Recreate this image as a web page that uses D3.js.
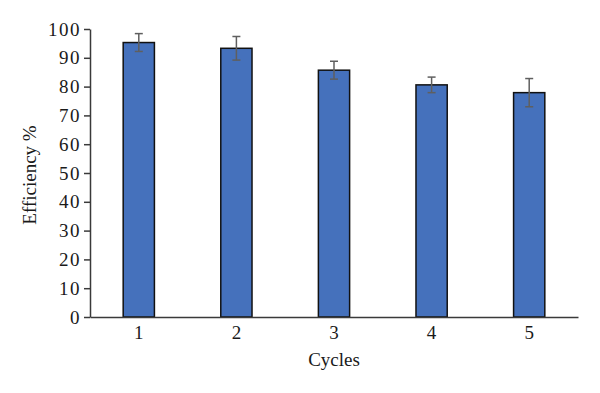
<!DOCTYPE html>
<html>
<head>
<meta charset="utf-8">
<script src="https://cdn.jsdelivr.net/npm/d3@7"></script>
<style>
  body { margin: 0; background: #fff; }
  svg text { font-family: "Liberation Serif", "DejaVu Serif", serif; fill: #1a1a1a; }
  .axis path, .axis line { stroke: #3a3a3a; stroke-width: 1.5; }
  .bar { fill: #4571bc; stroke: #111; stroke-width: 1.5; }
  .err { stroke: #5f5f5f; stroke-width: 1.5; fill: none; }
</style>
</head>
<body>
<svg id="chart"></svg>
<script>
var cycles = ["1", "2", "3", "4", "5"];
var efficiency = [95.3, 93.3, 85.7, 80.6, 77.9];
var errors = [3.1, 4.1, 3.1, 2.7, 4.9];
var yTicks = [0, 10, 20, 30, 40, 50, 60, 70, 80, 90, 100];

var width = 600, height = 393;
var margin = {top: 29, right: 22, bottom: 76, left: 90};
var plotW = width - margin.left - margin.right;
var plotH = height - margin.top - margin.bottom;

var svg = d3.select("#chart")
    .attr("width", width)
    .attr("height", height)
    .append("g")
    .attr("transform", "translate(" + margin.left + "," + margin.top + ")");

var xScale = d3.scaleBand()
    .domain(cycles)
    .range([0, plotW])
    .paddingInner(0.68)
    .paddingOuter(0.34);

var yScale = d3.scaleLinear()
    .domain([0, 100])
    .range([plotH, 0]);

// y axis
var yAxis = svg.append("g")
    .attr("class", "axis y")
    .call(d3.axisLeft(yScale).tickValues(yTicks).tickSize(6).tickSizeOuter(0).tickPadding(3));
yAxis.selectAll("text")
    .style("font-size", "19px")
    .style("letter-spacing", "1.5px");

// bars
svg.selectAll(".bar")
    .data(efficiency)
    .enter().append("rect")
    .attr("class", "bar")
    .attr("x", function(d, i) { return xScale(cycles[i]); })
    .attr("y", function(d) { return yScale(d); })
    .attr("width", xScale.bandwidth())
    .attr("height", function(d) { return plotH - yScale(d); });

// error bars
var capW = 4;
var eb = svg.selectAll(".errg")
    .data(efficiency)
    .enter().append("g")
    .attr("class", "errg");
eb.append("line").attr("class", "err")
    .attr("x1", function(d, i) { return xScale(cycles[i]) + xScale.bandwidth() / 2; })
    .attr("x2", function(d, i) { return xScale(cycles[i]) + xScale.bandwidth() / 2; })
    .attr("y1", function(d, i) { return yScale(d + errors[i]); })
    .attr("y2", function(d, i) { return yScale(d - errors[i]); });
eb.append("line").attr("class", "err")
    .attr("x1", function(d, i) { return xScale(cycles[i]) + xScale.bandwidth() / 2 - capW; })
    .attr("x2", function(d, i) { return xScale(cycles[i]) + xScale.bandwidth() / 2 + capW; })
    .attr("y1", function(d, i) { return yScale(d + errors[i]); })
    .attr("y2", function(d, i) { return yScale(d + errors[i]); });
eb.append("line").attr("class", "err")
    .attr("x1", function(d, i) { return xScale(cycles[i]) + xScale.bandwidth() / 2 - capW; })
    .attr("x2", function(d, i) { return xScale(cycles[i]) + xScale.bandwidth() / 2 + capW; })
    .attr("y1", function(d, i) { return yScale(d - errors[i]); })
    .attr("y2", function(d, i) { return yScale(d - errors[i]); });

// x axis
var xAxis = svg.append("g")
    .attr("class", "axis x")
    .attr("transform", "translate(0," + plotH + ")")
    .call(d3.axisBottom(xScale).tickSize(0).tickSizeOuter(0).tickPadding(9));
xAxis.selectAll("text").style("font-size", "19px");

// axis titles
svg.append("text")
    .attr("x", plotW / 2)
    .attr("y", plotH + 49)
    .attr("text-anchor", "middle")
    .style("font-size", "19px")
    .text("Cycles");

svg.append("text")
    .attr("transform", "translate(" + (-54) + "," + (plotH / 2 + 2) + ") rotate(-90)")
    .attr("text-anchor", "middle")
    .style("font-size", "19px")
    .text("Efficiency %");
</script>
</body>
</html>
